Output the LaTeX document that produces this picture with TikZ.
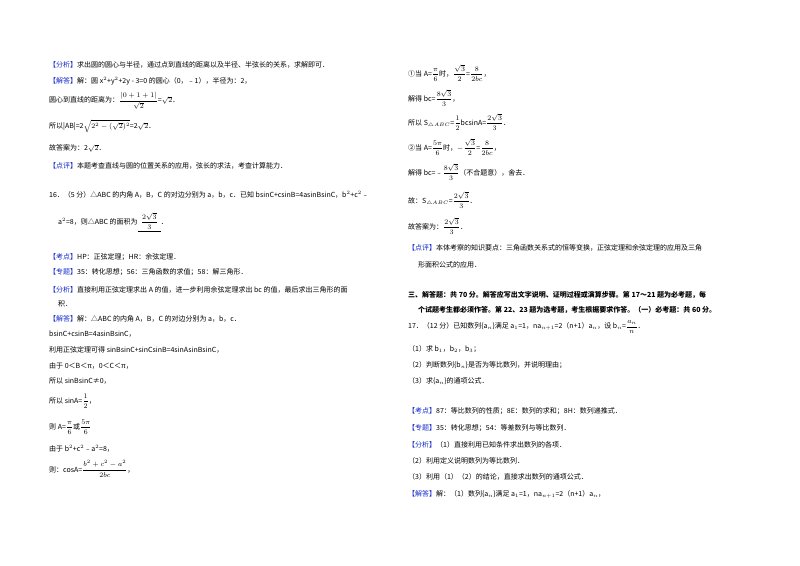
\documentclass[tikz,border=0pt]{standalone}
\usepackage{amsmath}
\usepackage{fontspec}
\setmainfont{Noto Sans CJK SC}
\definecolor{hb}{RGB}{20,40,200}
\newcommand{\KW}[1]{\textcolor{hb}{【#1】}}
\newcommand{\T}[4]{\node[tx] (#1) at (#2pt,-#3pt) {#4};}
\begin{document}
\begin{tikzpicture}[tx/.style={anchor=west,inner sep=0pt,font=\fontsize{7}{8}\selectfont}]
\useasboundingbox[fill=white] (0,0) rectangle (800pt,-565pt);
\T{a1}{49}{65}{\KW{分析}求出圆的圆心与半径，通过点到直线的距离以及半径、半弦长的关系，求解即可．}
\T{a2}{49}{81}{\KW{解答}解：圆 x$^2$+y$^2$+2y - 3=0 的圆心（0，﹣1），半径为：2，}
\T{a3}{49}{101}{圆心到直线的距离为：$\dfrac{|0+1+1|}{\sqrt{2}}$=$\sqrt{2}$．}
\T{a4}{49}{126}{所以|AB|=2$\sqrt{2^2-(\sqrt{2})^2}$=2$\sqrt{2}$．}
\T{a5}{49}{148}{故答案为：2$\sqrt{2}$．}
\T{a6}{49}{166}{\KW{点评}本题考查直线与圆的位置关系的应用，弦长的求法，考查计算能力．}
\T{a7}{49}{195}{16．（5 分）△ABC 的内角 A，B，C 的对边分别为 a，b，c．已知 bsinC+csinB=4asinBsinC，b$^2$+c$^2$﹣}
\T{a8}{58}{222}{a$^2$=8，则△ABC 的面积为\underline{\ \ $\dfrac{2\sqrt{3}}{3}$\ \ }．}
\T{a9}{49}{257}{\KW{考点}HP：正弦定理；HR：余弦定理．}
\T{a10}{49}{272}{\KW{专题}35：转化思想；56：三角函数的求值；58：解三角形．}
\T{a11}{49}{290}{\KW{分析}直接利用正弦定理求出 A 的值，进一步利用余弦定理求出 bc 的值，最后求出三角形的面}
\T{a12}{58}{304}{积．}
\T{a13}{49}{319}{\KW{解答}解：△ABC 的内角 A，B，C 的对边分别为 a，b，c．}
\T{a14}{49}{334}{bsinC+csinB=4asinBsinC，}
\T{a15}{49}{350}{利用正弦定理可得 sinBsinC+sinCsinB=4sinAsinBsinC，}
\T{a16}{49}{366}{由于 0＜B＜π，0＜C＜π，}
\T{a17}{49}{381}{所以 sinBsinC≠0，}
\T{a18}{49}{401}{所以 sinA=$\dfrac{1}{2}$，}
\T{a19}{49}{427}{则 A=$\dfrac{\pi}{6}$或$\dfrac{5\pi}{6}$}
\T{a20}{49}{449}{由于 b$^2$+c$^2$﹣a$^2$=8，}
\T{a21}{49}{469}{则：cosA=$\dfrac{b^2+c^2-a^2}{2bc}$，}
\T{b1}{408}{73}{①当 A=$\dfrac{\pi}{6}$时，$\dfrac{\sqrt{3}}{2}$=$\dfrac{8}{2bc}$，}
\T{b2}{408}{98}{解得 bc=$\dfrac{8\sqrt{3}}{3}$，}
\T{b3}{408}{122}{所以 S$_{\triangle ABC}$=$\dfrac{1}{2}$bcsinA=$\dfrac{2\sqrt{3}}{3}$．}
\T{b4}{408}{147}{②当 A=$\dfrac{5\pi}{6}$时，$-\dfrac{\sqrt{3}}{2}$=$\dfrac{8}{2bc}$，}
\T{b5}{408}{172}{解得 bc=﹣$\dfrac{8\sqrt{3}}{3}$（不合题意），舍去．}
\T{b6}{408}{200}{故：S$_{\triangle ABC}$=$\dfrac{2\sqrt{3}}{3}$．}
\T{b7}{408}{226}{故答案为：$\dfrac{2\sqrt{3}}{3}$．}
\T{b8}{408}{248}{\KW{点评}本体考察的知识要点：三角函数关系式的恒等变换，正弦定理和余弦定理的应用及三角}
\T{b9}{418}{265}{形面积公式的应用．}
\T{b10}{408}{295}{\textbf{三、解答题：共 70 分。解答应写出文字说明、证明过程或演算步骤。第 17～21 题为必考题，每}}
\T{b11}{418}{310}{\textbf{个试题考生都必须作答。第 22、23 题为选考题，考生根据要求作答。（一）必考题：共 60 分。}}
\T{b12}{408}{327}{17．（12 分）已知数列\{a$_n$\}满足 a$_1$=1，na$_{n+1}$=2（n+1）a$_n$，设 b$_n$=$\dfrac{a_n}{n}$．}
\T{b13}{408}{349}{（1）求 b$_1$，b$_2$，b$_3$；}
\T{b14}{408}{365}{（2）判断数列\{b$_n$\}是否为等比数列，并说明理由；}
\T{b15}{408}{381}{（3）求\{a$_n$\}的通项公式．}
\T{b16}{408}{411}{\KW{考点}87：等比数列的性质；8E：数列的求和；8H：数列递推式．}
\T{b17}{408}{428}{\KW{专题}35：转化思想；54：等差数列与等比数列．}
\T{b18}{408}{445}{\KW{分析}（1）直接利用已知条件求出数列的各项．}
\T{b19}{408}{461}{（2）利用定义说明数列为等比数列．}
\T{b20}{408}{477}{（3）利用（1）（2）的结论，直接求出数列的通项公式．}
\T{b21}{408}{494}{\KW{解答}解：（1）数列\{a$_n$\}满足 a$_1$=1，na$_{n+1}$=2（n+1）a$_n$，}
\end{tikzpicture}
\end{document}
